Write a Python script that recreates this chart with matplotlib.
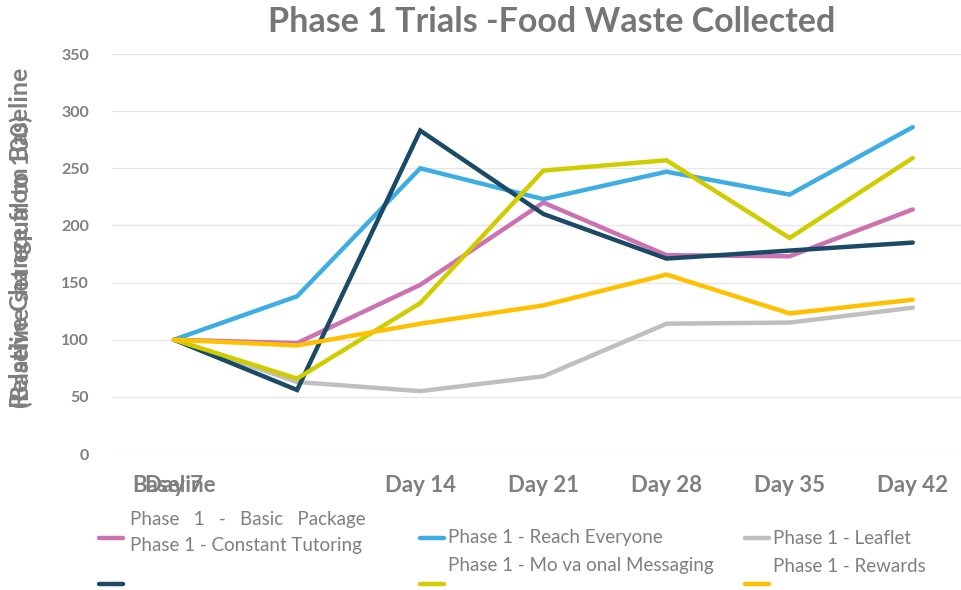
import matplotlib
matplotlib.use('Agg')
import matplotlib.pyplot as plt
from matplotlib.lines import Line2D

plt.rcParams['font.family'] = ['Lato', 'DejaVu Sans']

# data
days = ['Baseline', 'Day 7', 'Day 14', 'Day 21', 'Day 28', 'Day 35', 'Day 42']
basic_package = [100, 97, 148, 220, 174, 173, 214]
reach_everyone = [100, 138, 250, 223, 247, 227, 286]
leaflet = [100, 63, 55, 68, 114, 115, 128]
constant_tutoring = [100, 56, 283, 210, 171, 178, 185]
motivational = [100, 66, 132, 248, 257, 189, 259]
rewards = [100, 95, 114, 130, 157, 123, 135]

series = [
    ('Phase 1 - Basic Package', basic_package, '#CC72B0'),
    ('Phase 1 - Reach Everyone', reach_everyone, '#3DADE3'),
    ('Phase 1 - Leaflet', leaflet, '#BFBFBF'),
    ('Phase 1 - Constant Tutoring', constant_tutoring, '#1A4A66'),
    ('Phase 1 - Mo va onal Messaging', motivational, '#CFCC00'),
    ('Phase 1 - Rewards', rewards, '#FFC000'),
]

GREY = '#7F7F7F'
W, H = 961, 590

fig = plt.figure(figsize=(W / 100, H / 100), dpi=100)


def fx(x):
    return x / W


def fy(y):
    return 1 - y / H


ax = fig.add_axes([fx(112.4), fy(454), (974.3 - 112.4) / W, 400 / H])
xs = list(range(len(days)))
for name, vals, color in series:
    ax.plot(xs, vals, color=color, lw=3.2, solid_capstyle='round', solid_joinstyle='miter')

ax.set_xlim(-0.5, 6.5)
ax.set_ylim(0, 350)
ax.set_yticks(range(0, 351, 50))
ax.grid(axis='y', color='#E6E6E6', lw=1)
ax.set_axisbelow(True)
for s in ax.spines.values():
    s.set_visible(False)
ax.tick_params(length=0)
ax.set_yticklabels([str(v) for v in range(0, 351, 50)], fontsize=11.5, fontweight='bold', color=GREY)
ax.yaxis.set_tick_params(pad=17)

# x labels: "Baseline" and "Day 7" are drawn on top of each other in the original
ax.set_xticks(xs)
ax.set_xticklabels([''] * len(days))
label_pos = [0, 0, 2, 3, 4, 5, 6]
for lbl, p in zip(days, label_pos):
    ax.text(p, -28, lbl, ha='center', va='center', fontsize=16, fontweight='bold', color=GREY)

fig.text(fx(552), fy(22), 'Phase 1 Trials -Food Waste Collected', ha='center', va='center',
         fontsize=24.5, fontweight='bold', color='#767676')

# the two lines of the axis title also sit on top of each other in the original
fig.text(fx(21), fy(238), 'Relative Change from Baseline', rotation=90, ha='center', va='center',
         fontsize=18, fontweight='bold', color=GREY)
fig.text(fx(21), fy(262), '(Baseline set equal to 100)', rotation=90, ha='center', va='center',
         fontsize=18, fontweight='bold', color=GREY)

# garbled legend, as laid out in the original
handles = [
    (99, 538, series[0][2]), (99, 584, series[3][2]),
    (420, 538, series[1][2]), (420, 584, series[4][2]),
    (745, 538, series[2][2]), (745, 584, series[5][2]),
]
for x0, y0, c in handles:
    fig.add_artist(Line2D([fx(x0), fx(x0 + 24)], [fy(y0), fy(y0)], color=c, lw=3.2,
                          solid_capstyle='round', transform=fig.transFigure))

legend_texts = [
    (130, 519, 'Phase   1   -   Basic   Package'),
    (130, 546, series[3][0]),
    (448, 538, series[1][0]),
    (448, 566, series[4][0]),
    (773, 538, series[2][0]),
    (773, 566, series[5][0]),
]
for x0, y0, t in legend_texts:
    fig.text(fx(x0), fy(y0), t, ha='left', va='center', fontsize=13.5, color=GREY)

fig.savefig('out.png', dpi=100)
